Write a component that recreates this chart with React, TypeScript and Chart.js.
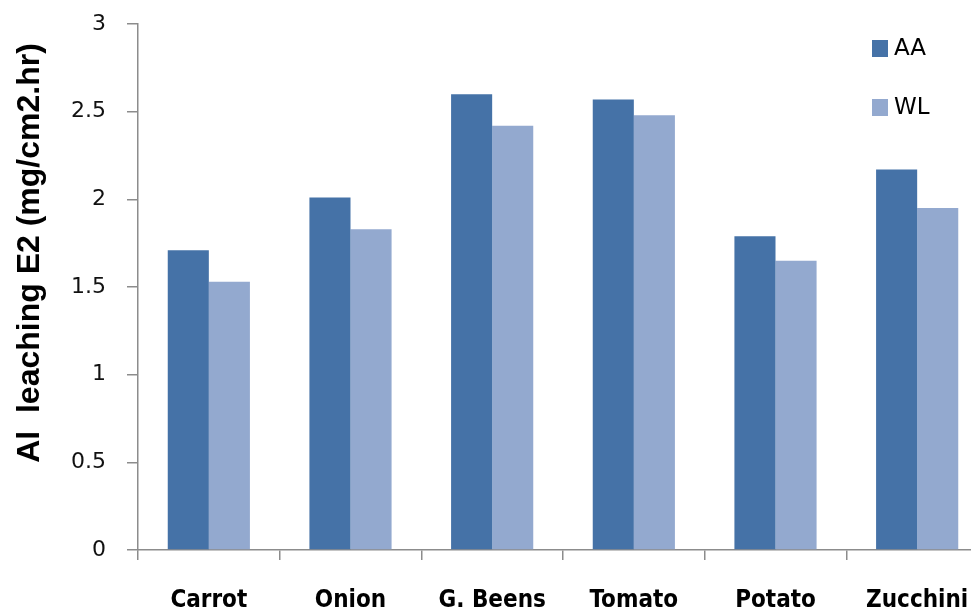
import React, { useEffect, useRef } from "react";
import { Chart, registerables } from "chart.js";

Chart.register(...registerables);

const categories = ["Carrot", "Onion", "G. Beens", "Tomato", "Potato", "Zucchini"];
const aaValues = [1.71, 2.01, 2.6, 2.57, 1.79, 2.17];
const wlValues = [1.53, 1.83, 2.42, 2.48, 1.65, 1.95];
const yTicks = [0, 0.5, 1, 1.5, 2, 2.5, 3];
const yTitle = "Al  leaching E2 (mg/cm2.hr)";

const AA_COLOR = "#4572A7";
const WL_COLOR = "#93A9CF";

const overlayPlugin = {
  id: "overlay",
  afterDraw(chart: any) {
    const ctx = chart.ctx;
    const area = chart.chartArea;
    ctx.save();
    // y title
    ctx.translate(30, 253);
    ctx.rotate(-Math.PI / 2);
    ctx.font = "bold 32px 'Liberation Sans', Arial, sans-serif";
    ctx.fillStyle = "#000";
    ctx.textAlign = "center";
    ctx.textBaseline = "middle";
    ctx.fillText(yTitle, 0, 0);
    ctx.restore();

    // legend
    ctx.save();
    const items = chart.data.datasets.map((d: any) => ({ label: d.label, color: d.backgroundColor }));
    ctx.font = "23px 'DejaVu Sans', sans-serif";
    ctx.textBaseline = "middle";
    ctx.textAlign = "left";
    items.forEach((it: any, i: number) => {
      const y = area.top + 24 + i * 59;
      const x = 872;
      ctx.fillStyle = it.color;
      ctx.fillRect(x, y - 8, 16, 17);
      ctx.fillStyle = "#000";
      ctx.fillText(it.label, x + 22, y + 1);
    });
    ctx.restore();
  },
};

export default function App() {
  const ref = useRef<HTMLCanvasElement | null>(null);
  useEffect(() => {
    if (!ref.current) return;
    const chart = new Chart(ref.current, {
      type: "bar",
      data: {
        labels: categories,
        datasets: [
          { label: "AA", data: aaValues, backgroundColor: AA_COLOR, categoryPercentage: 0.58, barPercentage: 1.0 },
          { label: "WL", data: wlValues, backgroundColor: WL_COLOR, categoryPercentage: 0.58, barPercentage: 1.0 },
        ],
      },
      options: {
        animation: false,
        responsive: false,
        maintainAspectRatio: false,
        layout: { padding: { top: 24, right: 12, left: 0, bottom: 0 } },
        plugins: { legend: { display: false }, tooltip: { enabled: false } },
        scales: {
          x: {
            grid: {
              offset: true,
              drawOnChartArea: false,
              drawTicks: true,
              tickLength: 10,
              color: "#8c8c8c",
              lineWidth: 1.5,
            },
            border: { color: "#8c8c8c", width: 1.5 },
            ticks: {
              color: "#000",
              padding: 26,
              font: { family: "'DejaVu Sans Condensed', 'DejaVu Sans', sans-serif", size: 24, weight: "bold" },
              maxRotation: 0,
              autoSkip: false,
            },
            afterFit: (s: any) => {
              s.height = 61;
              s.paddingTop = 0;
            },
          },
          y: {
            min: 0,
            max: 3,
            afterBuildTicks: (s: any) => {
              s.ticks = yTicks.map((v) => ({ value: v }));
            },
            grid: {
              drawOnChartArea: false,
              drawTicks: true,
              tickLength: 11,
              color: "#8c8c8c",
              lineWidth: 1.5,
            },
            border: { color: "#8c8c8c", width: 1.5 },
            ticks: {
              color: "#111",
              padding: 21,
              font: { family: "'DejaVu Sans', sans-serif", size: 22 },
              callback: (v: any) => String(v),
            },
            afterFit: (s: any) => {
              s.width = 138;
              s.paddingTop = 0;
              s.paddingBottom = 0;
            },
          },
        },
      },
      plugins: [overlayPlugin],
    });
    return () => chart.destroy();
  }, []);
  return (
    <div style={{ position: "absolute", left: 0, top: 0, width: 971, height: 611, overflow: "hidden", background: "#fff" }}>
      <canvas ref={ref} width={1000} height={611} style={{ display: "block" }} />
    </div>
  );
}
